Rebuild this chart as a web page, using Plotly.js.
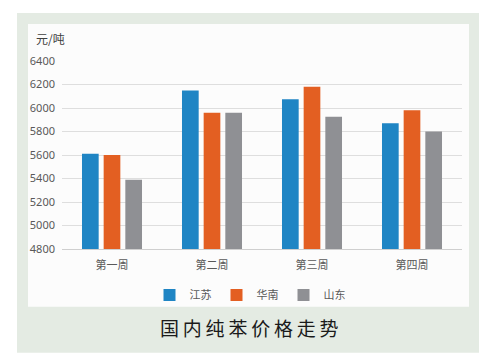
<!DOCTYPE html>
<html><head><meta charset="utf-8">
<script src="https://cdn.plot.ly/plotly-3.0.1.min.js"></script>
<style>html,body{margin:0;padding:0;background:#fff;}#chart{width:484px;height:363px;}</style>
</head><body><div id="chart"></div>
<script>
const categories = ['第一周', '第二周', '第三周', '第四周'];
const seriesNames = ['江苏', '华南', '山东'];
const jiangsu = [5610, 6150, 6075, 5870];
const huanan = [5600, 5960, 6180, 5980];
const shandong = [5390, 5960, 5925, 5800];
const yTicks = [4800, 5000, 5200, 5400, 5600, 5800, 6000, 6200, 6400];
const colors = ['#1f85c4', '#e35f22', '#8f9094'];

const seriesValues = [jiangsu, huanan, shandong];
const traces = seriesNames.map((n, i) => ({
  type: 'bar', name: n, x: categories, y: seriesValues[i],
  marker: {color: colors[i]}, hoverinfo: 'skip'
}));

const layout = {
  width: 484, height: 363,
  margin: {l: 62, r: 22, t: 61, b: 114},
  paper_bgcolor: '#ffffff', plot_bgcolor: 'rgba(0,0,0,0)',
  barmode: 'group', bargap: 0.35, bargroupgap: 0.23,
  font: {family: 'Noto Sans CJK SC, Noto Sans, sans-serif', color: '#595959', size: 11},
  xaxis: {type: 'category', showline: true, linecolor: '#cfcfcf', linewidth: 1,
    ticks: '', showgrid: false, ticklabelstandoff: 6, tickfont: {size: 11, color: '#595959'}, fixedrange: true},
  yaxis: {range: [4800, 6400], tickvals: yTicks, ticktext: yTicks.map(String),
    showgrid: true, gridcolor: '#dedede', gridwidth: 1, zeroline: false, showline: false,
    ticks: '', ticklabelstandoff: 6,
    tickfont: {family: 'Noto Sans, sans-serif', size: 11, color: '#595959'}, fixedrange: true},
  showlegend: true,
  legend: {orientation: 'h', x: 0.47, xanchor: 'center', y: -0.245, yanchor: 'middle',
    font: {size: 11, color: '#595959'}, itemwidth: 30, tracegroupgap: 0, bgcolor: 'rgba(0,0,0,0)'},
  shapes: [
    {type: 'rect', xref: 'paper', yref: 'paper', x0: -0.1125, x1: 1.0425, y0: -0.5516, y1: 1.2553,
      fillcolor: '#e4ebe3', line: {width: 0}, layer: 'below'},
    {type: 'rect', xref: 'paper', yref: 'paper', x0: -0.085, x1: 1.0175, y0: -0.307, y1: 1.1968,
      fillcolor: '#fcfcfc', line: {width: 0}, layer: 'below'}
  ],
  annotations: [
    {xref: 'paper', yref: 'paper', x: -0.07, y: 1.12, xanchor: 'left', yanchor: 'middle',
      text: '元/吨', showarrow: false, font: {size: 12, color: '#404040'}},
    {xref: 'paper', yref: 'paper', x: 0.4675, y: -0.42, xanchor: 'center', yanchor: 'middle',
      text: '国\u2009内\u2009纯\u2009苯\u2009价\u2009格\u2009走\u2009势', showarrow: false,
      font: {size: 19, color: '#1a1a1a'}}
  ]
};

Plotly.newPlot('chart', traces, layout, {displayModeBar: false, staticPlot: true});
</script></body></html>
